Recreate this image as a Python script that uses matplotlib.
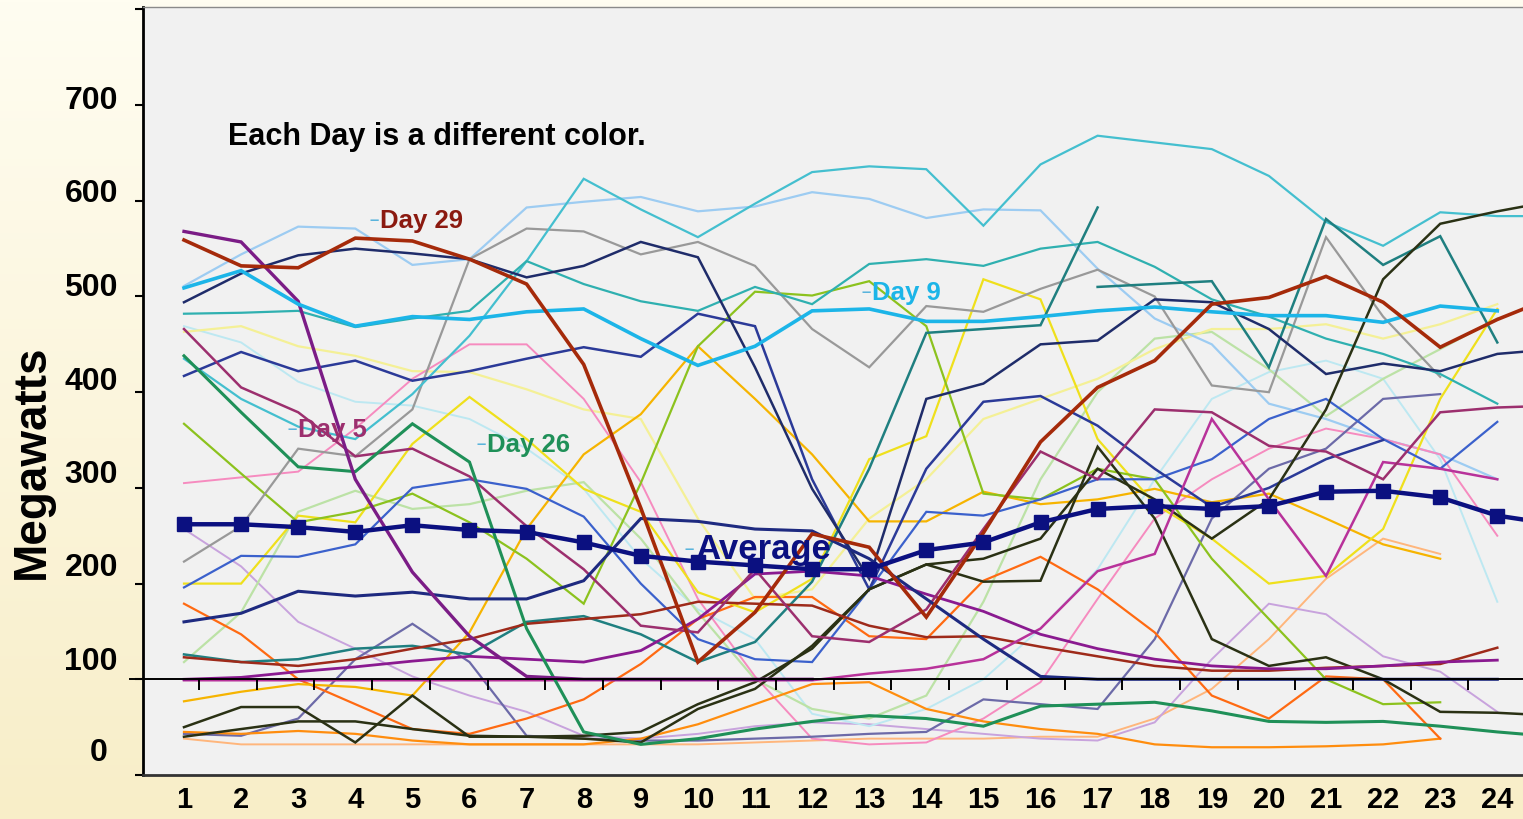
import numpy as np
import matplotlib.pyplot as plt
from matplotlib.colors import LinearSegmentedColormap
from matplotlib.transforms import ScaledTranslation

plt.rcParams['font.family'] = ['Liberation Sans', 'DejaVu Sans']
plt.rcParams['font.weight'] = 'bold'

nan = np.nan
hours = np.arange(1, 26)
hour_labels = [str(h) for h in range(1, 25)]

# megawatts for each hour, one list per day
average = [262, 262, 259, 254, 261, 256, 254, 243, 229, 223, 219, 215, 215, 235,
           243, 264, 278, 281, 278, 281, 296, 297, 290, 271, 262]
day29 = [559, 532, 530, 561, 558, 539, 513, 429, 279, 118, 170, 252, 238, 165,
         253, 348, 405, 433, 492, 499, 521, 494, 447, 476, 500]
day9 = [509, 527, 492, 469, 479, 476, 484, 487, 456, 428, 448, 485, 487, 474,
        474, 479, 485, 489, 484, 480, 480, 473, 490, 485]
day5 = [466, 405, 379, 333, 341, 312, 260, 215, 156, 149, 215, 145, 139, 173,
        257, 338, 309, 382, 379, 344, 338, 309, 379, 384, 386]
day26 = [438, 379, 322, 317, 367, 327, 153, 45, 32, 38, 48, 56, 62, 59,
         51, 72, 74, 76, 67, 56, 55, 56, 51, 45, 40]
purple_thick = [568, 557, 495, 309, 212, 145, 103, 100, 100, 100, 100, 100]
cyan_top = [435, 393, 364, 351, 398, 459, 537, 623, 591, 562, 597, 630, 636, 633,
            574, 638, 668, 661, 654, 626, 578, 553, 588, 584, 584]
light_sky = [511, 544, 573, 571, 533, 539, 593, 599, 604, 589, 594, 609, 602, 582,
             591, 590, 529, 477, 450, 388, 372, 351, 335, 309]
dark_navy = [494, 524, 543, 550, 545, 539, 520, 532, 557, 541, 426, 299, 205, 393,
             409, 450, 454, 497, 494, 466, 419, 430, 422, 440, 445]
gray = [223, 260, 341, 333, 382, 539, 571, 568, 544, 557, 532, 466, 426, 490,
        484, 508, 528, 500, 407, 400, 562, 479, 416]
teal = [482, 483, 485, 468, 477, 485, 537, 513, 495, 485, 510, 492, 534, 539,
        532, 550, 557, 531, 497, 479, 456, 440, 419, 388]
dark_teal_a = [126, 118, 121, 132, 135, 126, 160, 166, 147, 118, 139, 202, 320, 462,
               466, 470, 593]
dark_teal_b = [nan] * 16 + [510, 513, 516, 426, 581, 533, 563, 452]
yellow = [200, 200, 271, 264, 346, 395, 351, 299, 275, 191, 170, 205, 330, 354,
          518, 497, 351, 283, 247, 200, 208, 257, 393, 487]
pale_yellow = [463, 469, 448, 438, 422, 421, 403, 382, 372, 268, 184, 194, 268, 309,
               372, 393, 414, 445, 466, 466, 471, 456, 471, 492]
gold = [77, 87, 95, 92, 83, 149, 257, 335, 377, 448, 393, 335, 265, 265,
        296, 283, 288, 299, 285, 294, 268, 241, 226]
pink = [305, 311, 317, 362, 414, 450, 450, 393, 306, 184, 103, 38, 32, 34,
        59, 97, 184, 268, 309, 341, 362, 351, 335, 250]
blue = [196, 229, 228, 241, 300, 309, 299, 270, 200, 142, 121, 118, 194, 275,
        271, 288, 309, 309, 330, 372, 393, 351, 320, 369]
navy_mid = [417, 442, 422, 433, 412, 422, 435, 447, 437, 482, 469, 309, 194, 320,
            390, 396, 365, 320, 280, 300, 330, 350]
light_green = [118, 170, 275, 297, 278, 283, 297, 306, 247, 170, 100, 69, 59, 83,
               181, 309, 400, 456, 463, 424, 375, 414, 445, 477]
yellow_green = [367, 315, 264, 275, 294, 264, 226, 179, 305, 448, 505, 501, 516, 469,
                294, 288, 320, 309, 226, 163, 100, 74, 76]
olive_a = [50, 71, 71, 34, 83, 40, 40, 41, 45, 74, 97, 132, 194, 220,
           202, 203, 343, 268, 142, 114, 123, 100, 66, 65, 62]
olive_b = [40, 48, 56, 56, 48, 41, 40, 38, 34, 69, 90, 135, 194, 220,
           226, 247, 320, 288, 247, 288, 382, 518, 576, 589, 600]
orange = [179, 147, 100, 74, 48, 43, 59, 79, 116, 163, 186, 186, 145, 142,
          203, 228, 194, 149, 83, 59, 103, 100, 38]
peach = [38, 32, 32, 32, 32, 32, 32, 32, 32, 32, 34, 36, 38, 38,
         38, 40, 40, 59, 90, 142, 205, 247, 231]
dark_orange = [45, 43, 46, 43, 36, 32, 32, 32, 38, 53, 74, 95, 97, 69,
               56, 48, 43, 32, 29, 29, 30, 32, 38]
lavender = [257, 218, 160, 132, 103, 83, 66, 41, 38, 43, 51, 55, 53, 48,
            43, 38, 36, 55, 121, 179, 168, 124, 108, 66]
slate = [43, 41, 59, 121, 158, 118, 41, 38, 36, 36, 38, 40, 43, 45,
         79, 74, 69, 142, 268, 320, 341, 393, 398]
brown_red = [123, 118, 114, 121, 132, 142, 158, 163, 168, 181, 179, 177, 156, 144,
             145, 134, 124, 114, 109, 109, 112, 114, 116, 133]
purple_mid = [100, 102, 108, 113, 119, 124, 121, 118, 130, 163, 210, 213, 208, 189,
              171, 147, 132, 121, 114, 111, 111, 114, 118, 120]
magenta = [99, 99, 99, 99, 99, 99, 99, 99, 99, 99, 99, 99, 106, 111,
           121, 153, 213, 231, 372, 288, 208, 327, 320, 309]
pale_cyan = [469, 452, 411, 390, 386, 372, 341, 299, 226, 173, 142, 64, 51, 69,
             100, 153, 215, 309, 393, 421, 433, 414, 330, 181]
navy_low = [160, 169, 192, 187, 191, 184, 184, 203, 268, 265, 257, 255, 226, 184,
            142, 103, 100, 100, 100, 100, 100, 100, 100, 100]

# (values, colour, width) drawn back to front
days = [
    (peach, '#ffb67c', 1.4), (lavender, '#c8a3dd', 1.4), (pale_cyan, '#bde8f1', 1.4),
    (light_green, '#bce2a6', 1.6), (pale_yellow, '#f4f096', 1.6), (light_sky, '#9dccf2', 1.6),
    (pink, '#f68bbf', 1.4), (slate, '#6c6aa8', 1.6), (dark_orange, '#ff8d0e', 1.6),
    (orange, '#ff6a12', 1.6), (gold, '#f6b400', 1.6), (yellow, '#efe01c', 1.6),
    (yellow_green, '#8cc21e', 1.6), (gray, '#999999', 1.6), (cyan_top, '#44bfcf', 1.6),
    (teal, '#2fb0b0', 1.6), (dark_teal_a, '#1f7f80', 1.8), (dark_teal_b, '#1f7f80', 1.8),
    (blue, '#3b61cc', 1.6), (navy_mid, '#2b3a98', 1.8), (dark_navy, '#1f2c6a', 1.8),
    (olive_a, '#2a3114', 1.8), (olive_b, '#2a3114', 1.8), (brown_red, '#9e2a1a', 1.8),
    (magenta, '#b8329a', 1.8), (purple_mid, '#8a1a90', 2.0), (day5, '#9c2f6e', 1.8),
    (day26, '#1f9058', 2.2), (navy_low, '#1e2a80', 2.2), (purple_thick, '#7b1c86', 2.4),
    (day9, '#1cb5e8', 2.6), (day29, '#a52a0a', 2.6),
]

fig = plt.figure(figsize=(15.23, 8.2), dpi=100)

# cream page background
bg = fig.add_axes([0, 0, 1, 1], zorder=-10)
cream = LinearSegmentedColormap.from_list('cream', ['#fffdf1', '#f8eec8'])
bg.imshow(np.linspace(0, 1, 256).reshape(-1, 1), aspect='auto', cmap=cream,
          extent=[0, 1, 0, 1])
bg.axis('off')

ax = fig.add_axes([143 / 1523, 44 / 820, 1380 / 1523, 768 / 820])
ax.set_facecolor('#f1f1f1')

for vals, col, lw in days:
    ax.plot(hours[:len(vals)], vals, color=col, lw=lw, solid_joinstyle='miter')

ax.plot(hours[:len(average)], average, color='#0b1080', lw=3.2, marker='s',
        markersize=10, markevery=list(range(24)), zorder=5)

# the 100 MW line with its little ticks
ax.plot([0.05, 24.45], [100, 100], color='black', lw=1.4, clip_on=False, zorder=4)
tick_x = 1.263 + 1.0105 * np.arange(23)
ax.vlines(tick_x, 88.5, 100, color='black', lw=1.4, zorder=4)

ax.set_xlim(0.282, 24.45)
ax.set_ylim(0, 802.5)

ax.set_xticks(range(1, 25))
ax.set_xticklabels(hour_labels, fontsize=21, fontweight='bold')
ax.tick_params(axis='x', length=0, pad=7)

ax.set_yticks(range(0, 801, 100))
ax.set_yticklabels([str(v) for v in range(0, 701, 100)] + [''], fontsize=23,
                   fontweight='bold')
ax.tick_params(axis='y', direction='out', length=6, width=1.5, pad=12)
lift = [26, 22, 20, 17, 15, 13, 11, 9, 0]
for lab, dy in zip(ax.get_yticklabels(), lift):
    dx = -10 if lab.get_text() == '0' else 0
    lab.set_transform(lab.get_transform() +
                      ScaledTranslation(dx / 100, dy / 100, fig.dpi_scale_trans))

ax.spines['right'].set_visible(False)
ax.spines['left'].set_linewidth(2)
ax.spines['left'].set_color('black')
ax.spines['bottom'].set_linewidth(2)
ax.spines['bottom'].set_color('#333333')
ax.spines['top'].set_linewidth(1)
ax.spines['top'].set_color('#8a8a8a')

fig.text(32 / 1523, 1 - 462 / 820, 'Megawatts', rotation=90, fontsize=33,
         fontweight='bold', ha='center', va='center')

ax.text(1.77, 668, 'Each Day is a different color.', fontsize=22,
        fontweight='bold', va='center', ha='left', zorder=6)

notes = [
    ('Day 29', 4.43, 580, '#8b1a10', 18.5),
    ('Day 9', 13.05, 505, '#1cb5e8', 18.5),
    ('Day 5', 3.0, 362, '#9c2f6e', 18.5),
    ('Day 26', 6.31, 346, '#1f9058', 18.5),
    ('Average', 9.95, 237, '#0b1080', 25),
]
for txt, x, y, col, fs in notes:
    ax.text(x, y, txt, color=col, fontsize=fs, fontweight='bold',
            ha='left', va='center', zorder=6)
    ax.text(x - 0.02, y, '\u2013', color='#5ab4dc', fontsize=12,
            ha='right', va='center', zorder=6)

fig.savefig('out.png', dpi=100)
